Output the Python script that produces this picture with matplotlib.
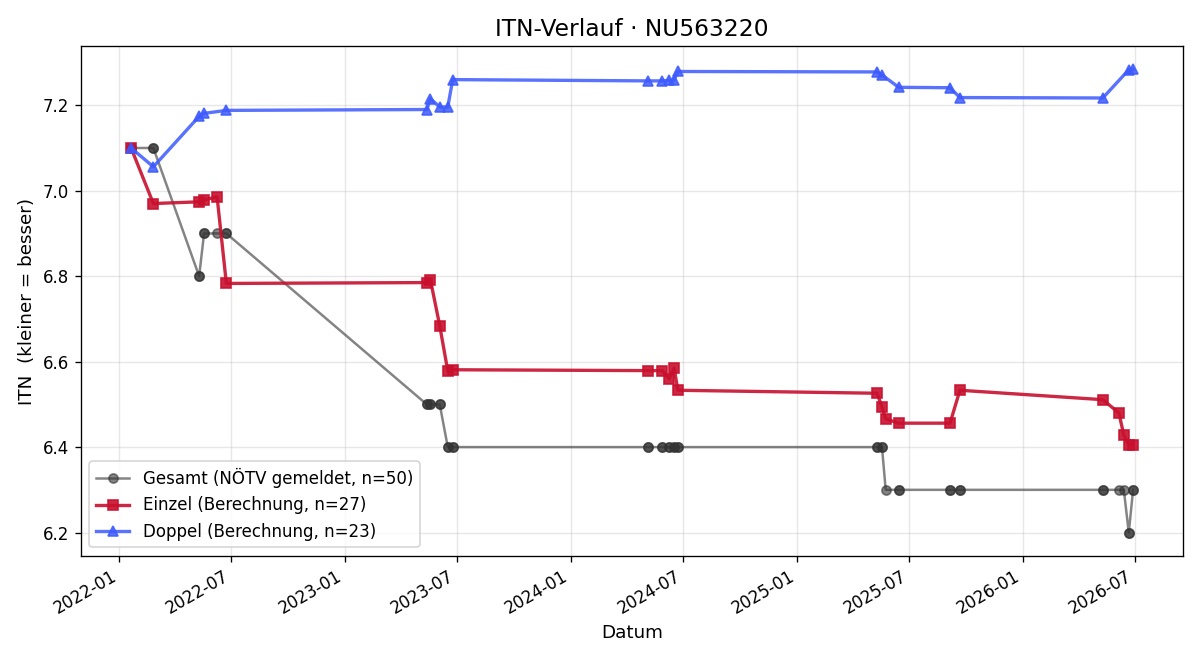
import matplotlib
matplotlib.use("Agg")
import matplotlib.pyplot as plt
import matplotlib.dates as mdates
import pandas as pd

# Einzel (single matches)
einzel_dates = ["2022-01-20", "2022-02-25", "2022-05-10", "2022-05-18", "2022-06-08", "2022-06-23",
                "2023-05-13", "2023-05-19", "2023-06-03", "2023-06-16", "2023-06-24",
                "2024-05-05", "2024-05-28", "2024-06-08", "2024-06-16", "2024-06-22",
                "2025-05-10", "2025-05-18", "2025-05-24", "2025-06-14", "2025-09-05", "2025-09-21",
                "2026-05-10", "2026-06-05", "2026-06-13", "2026-06-21", "2026-06-28"]
einzel_itn = [7.100, 6.970, 6.974, 6.978, 6.986, 6.783,
              6.785, 6.791, 6.684, 6.578, 6.581,
              6.579, 6.579, 6.560, 6.585, 6.533,
              6.526, 6.494, 6.466, 6.456, 6.456, 6.533,
              6.511, 6.480, 6.428, 6.406, 6.405]

# Doppel (double matches)
doppel_dates = ["2022-01-20", "2022-02-25", "2022-05-10", "2022-05-18", "2022-06-23",
                "2023-05-13", "2023-05-19", "2023-06-03", "2023-06-16", "2023-06-24",
                "2024-05-05", "2024-05-28", "2024-06-08", "2024-06-16", "2024-06-22",
                "2025-05-10", "2025-05-18", "2025-06-14", "2025-09-05", "2025-09-21",
                "2026-05-10", "2026-06-21", "2026-06-28"]
doppel_itn = [7.100, 7.056, 7.174, 7.181, 7.188,
              7.190, 7.215, 7.196, 7.196, 7.260,
              7.257, 7.257, 7.258, 7.259, 7.279,
              7.278, 7.271, 7.242, 7.241, 7.218,
              7.217, 7.283, 7.284]

# Gesamt (reported ITN) per match date
gesamt_dates = ["2022-01-20", "2022-01-20", "2022-02-25", "2022-02-25", "2022-05-10", "2022-05-10",
                "2022-05-18", "2022-05-18", "2022-06-08", "2022-06-23", "2022-06-23",
                "2023-05-13", "2023-05-13", "2023-05-19", "2023-05-19", "2023-06-03", "2023-06-03",
                "2023-06-16", "2023-06-16", "2023-06-24", "2023-06-24",
                "2024-05-05", "2024-05-05", "2024-05-28", "2024-05-28", "2024-06-08", "2024-06-08",
                "2024-06-16", "2024-06-16", "2024-06-22", "2024-06-22",
                "2025-05-10", "2025-05-10", "2025-05-18", "2025-05-18", "2025-05-24",
                "2025-06-14", "2025-06-14", "2025-09-05", "2025-09-05", "2025-09-21", "2025-09-21",
                "2026-05-10", "2026-05-10", "2026-06-05", "2026-06-13",
                "2026-06-21", "2026-06-21", "2026-06-28", "2026-06-28"]
gesamt_itn = [7.1, 7.1, 7.1, 7.1, 6.8, 6.8,
              6.9, 6.9, 6.9, 6.9, 6.9,
              6.5, 6.5, 6.5, 6.5, 6.5, 6.5,
              6.4, 6.4, 6.4, 6.4,
              6.4, 6.4, 6.4, 6.4, 6.4, 6.4,
              6.4, 6.4, 6.4, 6.4,
              6.4, 6.4, 6.4, 6.4, 6.3,
              6.3, 6.3, 6.3, 6.3, 6.3, 6.3,
              6.3, 6.3, 6.3, 6.3,
              6.2, 6.2, 6.3, 6.3]

fig, ax = plt.subplots(figsize=(10, 5.5), dpi=120)

ax.plot(pd.to_datetime(gesamt_dates), gesamt_itn, marker="o", markersize=5.5, linewidth=1.5,
        color="#333333", alpha=0.6, label=f"Gesamt (NÖTV gemeldet, n={len(gesamt_itn)})")
ax.plot(pd.to_datetime(einzel_dates), einzel_itn, marker="s", markersize=6.5, linewidth=2,
        color="#c8102e", alpha=0.9, label=f"Einzel (Berechnung, n={len(einzel_itn)})")
ax.plot(pd.to_datetime(doppel_dates), doppel_itn, marker="^", markersize=6.5, linewidth=2,
        color="#3d5afe", alpha=0.85, label=f"Doppel (Berechnung, n={len(doppel_itn)})")

ax.set_title("ITN-Verlauf · NU563220", fontsize=14)
ax.set_xlabel("Datum", fontsize=11)
ax.set_ylabel("ITN  (kleiner = besser)", fontsize=11)
ax.xaxis.set_major_locator(mdates.MonthLocator(bymonth=[1, 7]))
ax.xaxis.set_major_formatter(mdates.DateFormatter("%Y-%m"))
ax.grid(True, alpha=0.3)
ax.legend(loc="lower left")
fig.autofmt_xdate()

fig.subplots_adjust(left=0.0675, right=0.986, top=0.930, bottom=0.158)
fig.savefig("out.png")
